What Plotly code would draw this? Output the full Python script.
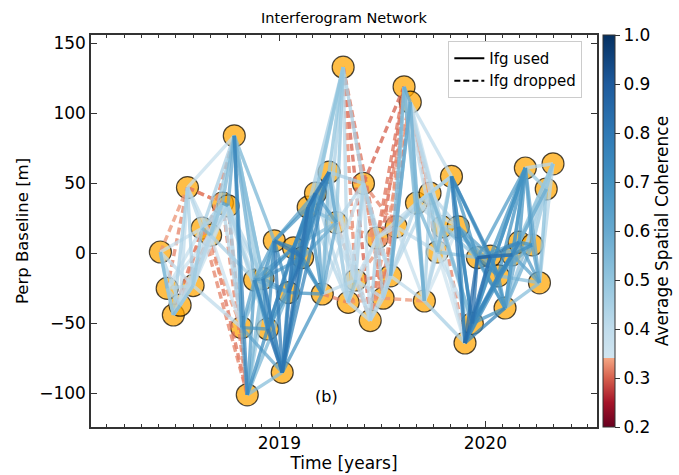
import plotly.graph_objects as go

# ---------------- data ----------------
dates = [
    "2018-06-04", "2018-06-16", "2018-06-27", "2018-07-09", "2018-07-22", "2018-08-01",
    "2018-08-17", "2018-09-01", "2018-09-22", "2018-10-02", "2018-10-13", "2018-10-26",
    "2018-11-05", "2018-11-18", "2018-12-03", "2018-12-11", "2018-12-23", "2019-01-06",
    "2019-01-17", "2019-01-26", "2019-02-11", "2019-02-21", "2019-03-06", "2019-03-18",
    "2019-03-30", "2019-04-12", "2019-04-24", "2019-05-03", "2019-05-16", "2019-05-30",
    "2019-06-11", "2019-06-23", "2019-07-04", "2019-07-17", "2019-07-27", "2019-08-10",
    "2019-08-21", "2019-09-01", "2019-09-15", "2019-09-25", "2019-10-08", "2019-10-17",
    "2019-11-02", "2019-11-14", "2019-11-26", "2019-12-09", "2019-12-18", "2020-01-10",
    "2020-01-24", "2020-02-05", "2020-02-18", "2020-03-01", "2020-03-12", "2020-03-24",
    "2020-04-06", "2020-04-18", "2020-04-30",
]
bperp = [
    1, -25, -44, -37, 47, -23, 18, 13, 36, 34, 84, -53,
    -101, -19, -18, -54, 9, -85, -28, 4, -3, 33, 43, -29,
    58, 22, 133, -35, -19, 50, -48, 11, -32, -16, 19, 119,
    108, 36, -34, 43, 1, 19, 55, 19, -64, -50, -3, -2,
    -16, -39, -1, 8, 61, 6, -21, 46, 64,
]
# coherence[i][k] : interferogram between date i and date i+k+1
coherence = [
    [0.55, 0.45, 0.42, 0.33, 0.40, 0.38],
    [0.50, 0.45, 0.32, 0.42, 0.38, 0.35],
    [0.55, 0.45, 0.40, 0.31, 0.33, 0.40],
    [0.40, 0.50, 0.32, 0.42, 0.32, 0.36],
    [0.45, 0.42, 0.40, 0.31, 0.32, 0.38],
    [0.48, 0.42, 0.40, 0.38, 0.32, 0.40],
    [0.55, 0.45, 0.42, 0.45, 0.33, 0.32],
    [0.50, 0.45, 0.48, 0.36, 0.31, 0.45],
    [0.65, 0.55, 0.42, 0.32, 0.40, 0.40],
    [0.60, 0.45, 0.31, 0.40, 0.42, 0.45],
    [0.72, 0.75, 0.58, 0.52, 0.48, 0.55],
    [0.58, 0.62, 0.50, 0.68, 0.45, 0.60],
    [0.65, 0.55, 0.72, 0.48, 0.52, 0.55],
    [0.68, 0.72, 0.62, 0.75, 0.58, 0.62],
    [0.75, 0.68, 0.78, 0.62, 0.72, 0.65],
    [0.72, 0.82, 0.68, 0.75, 0.62, 0.72],
    [0.78, 0.72, 0.75, 0.80, 0.68, 0.62],
    [0.72, 0.78, 0.75, 0.82, 0.70, 0.68],
    [0.78, 0.82, 0.75, 0.72, 0.68, 0.75],
    [0.80, 0.75, 0.72, 0.70, 0.62, 0.52],
    [0.78, 0.75, 0.72, 0.68, 0.58, 0.48],
    [0.82, 0.68, 0.78, 0.52, 0.45, 0.42],
    [0.62, 0.80, 0.65, 0.50, 0.42, 0.40],
    [0.55, 0.60, 0.45, 0.32, 0.40, 0.38],
    [0.62, 0.50, 0.42, 0.38, 0.45, 0.40],
    [0.50, 0.45, 0.40, 0.42, 0.33, 0.33],
    [0.42, 0.32, 0.45, 0.30, 0.31, 0.32],
    [0.50, 0.42, 0.40, 0.38, 0.33, 0.32],
    [0.45, 0.42, 0.38, 0.40, 0.31, 0.33],
    [0.40, 0.45, 0.33, 0.42, 0.32, 0.30],
    [0.45, 0.42, 0.40, 0.32, 0.30, 0.33],
    [0.45, 0.42, 0.40, 0.31, 0.32, 0.40],
    [0.45, 0.40, 0.32, 0.30, 0.40, 0.33],
    [0.42, 0.55, 0.60, 0.38, 0.40, 0.42],
    [0.50, 0.55, 0.42, 0.38, 0.45, 0.40],
    [0.60, 0.45, 0.55, 0.32, 0.40, 0.42],
    [0.45, 0.58, 0.40, 0.33, 0.38, 0.40],
    [0.50, 0.45, 0.55, 0.42, 0.40, 0.38],
    [0.45, 0.42, 0.40, 0.38, 0.35, 0.45],
    [0.50, 0.55, 0.45, 0.42, 0.38, 0.50],
    [0.55, 0.45, 0.42, 0.35, 0.40, 0.50],
    [0.50, 0.45, 0.32, 0.55, 0.50, 0.45],
    [0.62, 0.78, 0.72, 0.68, 0.75, 0.68],
    [0.72, 0.75, 0.68, 0.62, 0.58, 0.62],
    [0.78, 0.85, 0.82, 0.72, 0.75, 0.72],
    [0.82, 0.80, 0.75, 0.68, 0.72, 0.68],
    [0.88, 0.72, 0.68, 0.78, 0.62, 0.65],
    [0.72, 0.68, 0.82, 0.75, 0.68, 0.58],
    [0.68, 0.75, 0.65, 0.70, 0.58, 0.52],
    [0.65, 0.60, 0.62, 0.58, 0.52, 0.45],
    [0.75, 0.68, 0.72, 0.62, 0.58, 0.50],
    [0.68, 0.70, 0.65, 0.52, 0.45],
    [0.65, 0.60, 0.48, 0.42],
    [0.62, 0.45, 0.40],
    [0.52, 0.42],
    [0.50],
]
# a few longer interferograms (date index 1, date index 2, coherence)
long_ifgs = [(17, 24, 0.75), (10, 17, 0.52), (44, 52, 0.70), (45, 52, 0.68), (49, 56, 0.42)]

coh_min, coh_max = 0.2, 1.0
drop_threshold = 0.34

# colormap: truncated red part below threshold, blue part above
cmap_stops = [
    (0.20, "#67001f"), (0.25, "#a51429"), (0.30, "#d6604d"), (0.34, "#f4a582"),
    (0.3401, "#d1e5f0"), (0.40, "#c0dcec"), (0.50, "#92c5de"), (0.60, "#67a9cf"),
    (0.70, "#4393c3"), (0.80, "#2f79b5"), (0.90, "#1d5a9c"), (1.00, "#053061"),
]
colorscale = [[(v - coh_min) / (coh_max - coh_min), c] for v, c in cmap_stops]


def hex2rgb(h):
    h = h.lstrip("#")
    return tuple(int(h[i:i + 2], 16) for i in (0, 2, 4))


def coh_color(c):
    c = min(max(c, coh_min), coh_max)
    for (v0, c0), (v1, c1) in zip(cmap_stops[:-1], cmap_stops[1:]):
        if v0 <= c <= v1 and v1 > v0:
            t = (c - v0) / (v1 - v0)
            a, b = hex2rgb(c0), hex2rgb(c1)
            rgb = [round(a[k] + (b[k] - a[k]) * t) for k in range(3)]
            return "rgb({},{},{})".format(*rgb)
    return cmap_stops[-1][1]


edges = []
for i, row in enumerate(coherence):
    for k, c in enumerate(row):
        j = i + k + 1
        if j < len(dates):
            edges.append((i, j, c))
edges.extend(long_ifgs)
edges.sort(key=lambda e: e[2])

fig = go.Figure()

# acquisition dates
fig.add_trace(go.Scatter(
    x=dates, y=bperp, mode="markers", showlegend=False, hoverinfo="skip",
    marker=dict(size=22, color="rgba(255,165,0,0.72)",
                line=dict(color="rgba(0,0,0,0.7)", width=1.2)),
))

# interferograms
for i, j, c in edges:
    dropped = c < drop_threshold
    fig.add_trace(go.Scatter(
        x=[dates[i], dates[j]], y=[bperp[i], bperp[j]], mode="lines",
        line=dict(color=coh_color(c), width=3.4, dash="7px,4px" if dropped else "solid"),
        opacity=0.75, showlegend=False, hoverinfo="skip",
    ))

# legend entries
fig.add_trace(go.Scatter(x=[None], y=[None], mode="lines", name="Ifg used",
                         line=dict(color="black", width=2)))
fig.add_trace(go.Scatter(x=[None], y=[None], mode="lines", name="Ifg dropped",
                         line=dict(color="black", width=2, dash="6px,3px")))

# colorbar
fig.add_trace(go.Scatter(
    x=[dates[0]], y=[bperp[0]], mode="markers", showlegend=False, hoverinfo="skip",
    marker=dict(size=1, opacity=0, color=[0.5], colorscale=colorscale,
                cmin=coh_min, cmax=coh_max, showscale=True,
                colorbar=dict(
                    x=1.012, xanchor="left", xpad=0, y=0.5, yanchor="middle",
                    len=1, lenmode="fraction", ypad=0, thickness=12,
                    outlinewidth=1, outlinecolor="#333",
                    tickvals=[0.2, 0.3, 0.4, 0.5, 0.6, 0.7, 0.8, 0.9, 1.0],
                    ticktext=["0.2", "0.3", "0.4", "0.5", "0.6", "0.7", "0.8", "0.9", "1.0"],
                    ticks="outside", ticklen=5, tickcolor="#333",
                    tickfont=dict(size=17, color="black"),
                    title=dict(text="Average Spatial Coherence", side="right",
                               font=dict(size=17, color="black")),
                ))
))

fig.add_annotation(text="(b)", x=0.466, y=0.048, xref="x domain", yref="y domain",
                   showarrow=False, font=dict(size=16, color="black"))

fig.update_layout(
    width=679, height=475,
    margin=dict(l=91, r=82, t=35, b=48, autoexpand=False),
    paper_bgcolor="white", plot_bgcolor="white",
    font=dict(family="DejaVu Sans", color="black"),
    title=dict(text="Interferogram Network", x=0.5, xref="paper", y=0.962,
               yanchor="middle", font=dict(size=14.5)),
    legend=dict(x=0.971, y=0.985, xanchor="right", yanchor="top",
                bgcolor="rgba(255,255,255,0.85)", bordercolor="#cccccc", borderwidth=1,
                font=dict(size=15), tracegroupgap=0),
    xaxis=dict(
        range=["2018-02-01", "2020-07-17"], type="date", automargin=False,
        tick0="2019-01-01", dtick="M12", tickformat="%Y",
        ticks="inside", ticklen=6, tickwidth=1.2, tickcolor="#333",
        minor=dict(dtick="M1", ticks="inside", ticklen=3, tickcolor="#333", showgrid=False),
        showline=True, linecolor="#333", linewidth=1.5, mirror="allticks",
        showgrid=False, zeroline=False,
        tickfont=dict(size=17),
        title=dict(text="Time [years]", font=dict(size=17), standoff=4),
    ),
    yaxis=dict(
        range=[-124, 156], tickvals=[-100, -50, 0, 50, 100, 150], automargin=False,
        ticks="inside", ticklen=6, tickwidth=1.2, tickcolor="#333",
        showline=True, linecolor="#333", linewidth=1.5, mirror="allticks",
        showgrid=False, zeroline=False,
        tickfont=dict(size=17),
        title=dict(text="Perp Baseline [m]", font=dict(size=16.5), standoff=6),
    ),
)

fig.write_html("out.html", config={"displayModeBar": False},
               post_script="document.body.style.margin='0px';")
